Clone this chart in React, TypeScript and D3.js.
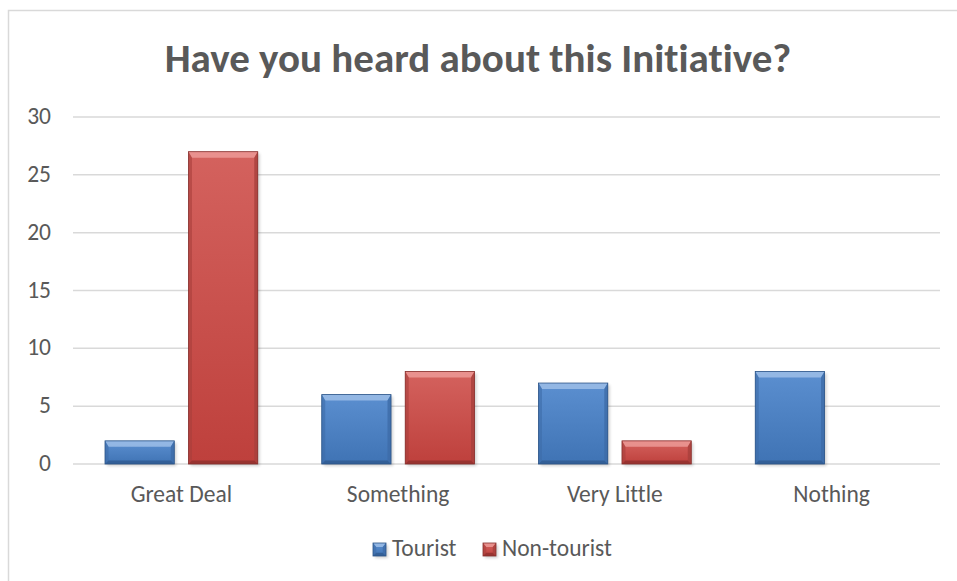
import React from "react";
import * as d3 from "d3";

const categories = ["Great Deal", "Something", "Very Little", "Nothing"];
const seriesNames = ["Tourist", "Non-tourist"];
const touristValues = [2, 6, 7, 8];
const nonTouristValues = [27, 8, 2, 0];
const yTicks = [0, 5, 10, 15, 20, 25, 30];
const title = "Have you heard about this Initiative?";

const W = 957;
const H = 581;
const plot = { left: 73, right: 940, top: 117, bottom: 464 };
const FONT = "Carlito, Calibri, 'Open Sans', sans-serif";

const palettes = [
  { main0: "#5B8FD0", main1: "#3F73B4", top: "#9DBEE8", side: "#3D6CA8", bottom: "#2F5A90", line: "#2C5487" },
  { main0: "#D4625E", main1: "#BE403C", top: "#EC9A96", side: "#A8403C", bottom: "#8E302D", line: "#86302D" },
];

function Bevel({ x, y, w, h, p, id, b = 6 }: any) {
  const bs = Math.min(b, h / 2, w / 2);
  const sx = Math.min(3.5, w / 4);
  const x1 = x + w;
  const y1 = y + h;
  return (
    <g>
      <rect x={x + 2} y={y + 2} width={w} height={h} fill="#000" opacity={0.18} filter="url(#blur)" />
      <rect x={x} y={y} width={w} height={h} fill={`url(#${id})`} />
      <polygon points={`${x},${y} ${x1},${y} ${x1 - sx},${y + bs} ${x + sx},${y + bs}`} fill={p.top} opacity={0.85} />
      <polygon points={`${x},${y} ${x + sx},${y + bs} ${x + sx},${y1 - sx} ${x},${y1}`} fill={p.side} opacity={0.6} />
      <polygon points={`${x1},${y} ${x1 - sx},${y + bs} ${x1 - sx},${y1 - sx} ${x1},${y1}`} fill={p.side} opacity={0.8} />
      <polygon points={`${x},${y1} ${x + sx},${y1 - sx} ${x1 - sx},${y1 - sx} ${x1},${y1}`} fill={p.bottom} opacity={0.8} />
      <rect x={x} y={y} width={w} height={h} fill="none" stroke={p.line} strokeWidth={0.8} />
    </g>
  );
}

export default function App() {
  const x0 = d3.scaleBand<string>().domain(categories).range([plot.left, plot.right]).padding(0);
  const bw0 = x0.bandwidth();
  const x1 = d3
    .scaleBand<string>()
    .domain(seriesNames)
    .range([32, bw0 - 32])
    .paddingInner(0.17)
    .paddingOuter(0);
  const y = d3.scaleLinear().domain([0, 30]).range([plot.bottom, plot.top]);
  const series = [touristValues, nonTouristValues];
  const noLig = { fontVariantLigatures: "none" as const };

  return (
    <svg width={W} height={H} style={{ position: "absolute", left: 0, top: 0, background: "#fff" }}>
      <defs>
        {palettes.map((p, i) => (
          <linearGradient key={i} id={`g${i}`} x1="0" y1="0" x2="0" y2="1">
            <stop offset="0" stopColor={p.main0} />
            <stop offset="1" stopColor={p.main1} />
          </linearGradient>
        ))}
        <filter id="blur" x="-20%" y="-20%" width="140%" height="140%">
          <feGaussianBlur stdDeviation="1.5" />
        </filter>
      </defs>
      <rect x={0} y={0} width={W} height={H} fill="#fff" />
      <rect x={8.5} y={10.5} width={W + 20} height={H + 20} fill="#fff" stroke="#D9D9D9" strokeWidth={1.5} />
      <text x={478} y={72} textAnchor="middle" fontFamily={FONT} fontWeight="bold" fontSize={41} fill="#595959" style={noLig}>
        {title}
      </text>
      {yTicks.map((t) => (
        <g key={t}>
          <line x1={plot.left} x2={plot.right} y1={y(t)} y2={y(t)} stroke="#D9D9D9" strokeWidth={1.5} />
          <text x={51} y={y(t) + 7} textAnchor="end" fontFamily={FONT} fontSize={23.5} fill="#595959">
            {t}
          </text>
        </g>
      ))}
      {categories.map((c, ci) =>
        series.map((vals, si) => {
          const v = vals[ci];
          if (!v) return null;
          const bx = (x0(c) as number) + (x1(seriesNames[si]) as number);
          const by = y(v);
          return (
            <Bevel key={`${ci}-${si}`} x={bx} y={by} w={x1.bandwidth()} h={y(0) - by} p={palettes[si]} id={`g${si}`} />
          );
        })
      )}
      {categories.map((c) => (
        <text
          key={c}
          x={(x0(c) as number) + bw0 / 2}
          y={502}
          textAnchor="middle"
          fontFamily={FONT}
          fontSize={23.5}
          fill="#595959"
          style={noLig}
        >
          {c}
        </text>
      ))}
      {seriesNames.map((s, i) => {
        const lx = i === 0 ? 373 : 483;
        return (
          <g key={s}>
            <Bevel x={lx} y={543} w={13} h={13} p={palettes[i]} id={`g${i}`} b={4} />
            <text x={lx + 19} y={556} fontFamily={FONT} fontSize={23.5} fill="#595959" style={noLig}>
              {s}
            </text>
          </g>
        );
      })}
    </svg>
  );
}
